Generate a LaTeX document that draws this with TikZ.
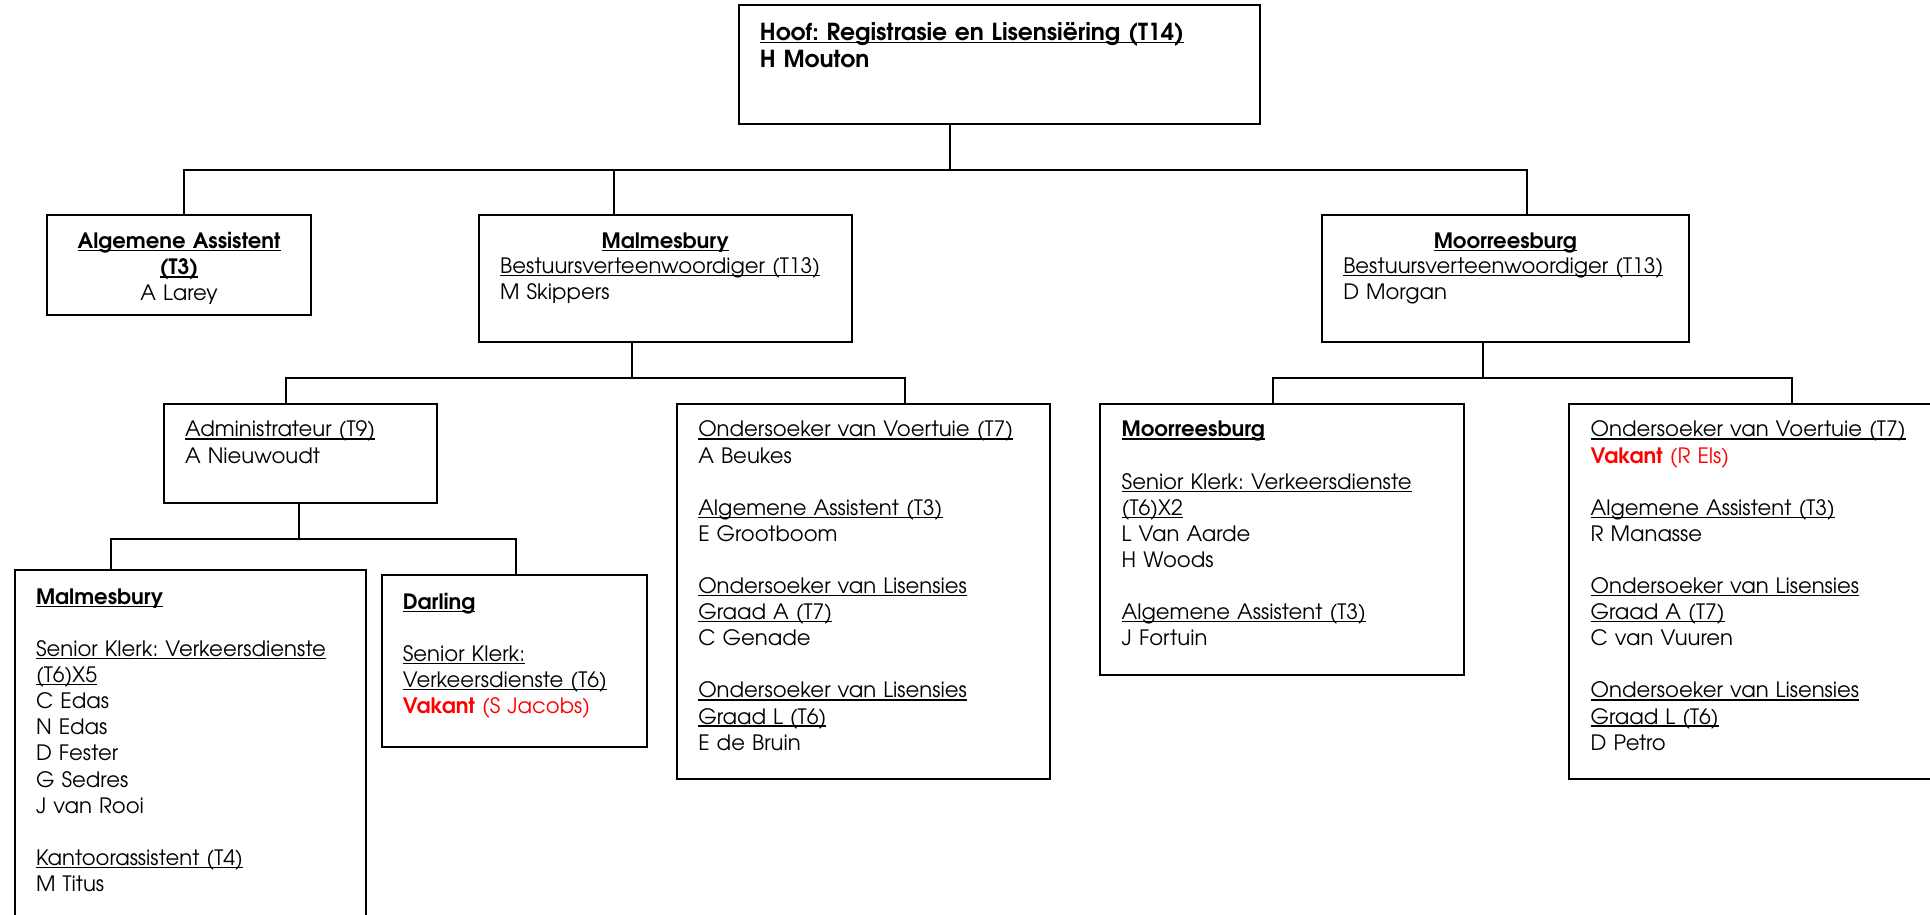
\documentclass[tikz,border=0pt]{standalone}
\usepackage{fontspec}
\setmainfont{texgyreadventor}[Extension=.otf, UprightFont=*-regular, BoldFont=*-bold, ItalicFont=*-italic, BoldItalicFont=*-bolditalic]
\usetikzlibrary{fit,calc}
\definecolor{vred}{RGB}{255,0,0}
\frenchspacing
\newcommand\myul[1]{\leavevmode\setbox0=\hbox{#1}\rlap{\rule[-1.4pt]{\wd0}{0.7pt}}\box0}
\newcommand\fs{\fontsize{10.6}{13.05}\selectfont\frenchspacing}
\newcommand\fst{\fontsize{11.7}{13.6}\selectfont\frenchspacing}
\newcommand\gap{\\[13.05pt]}
\tikzset{
  box/.style={draw, line width=1pt, inner sep=0pt},
  conn/.style={line width=1pt},
  txt/.style={anchor=base west, inner sep=0pt, text width=220pt, align=left, font=\fs},
  ctxt/.style={anchor=base, inner sep=0pt, text width=130pt, align=center, font=\fs}
}
\begin{document}
\begin{tikzpicture}[x=0.61545pt,y=-0.61545pt]
\useasboundingbox (0,0) rectangle (1568,743);
\clip (0,0) rectangle (1568,743);
% boxes
\node[box, fit={(600,4)(1024,101)}] (top) {};
\node[box, fit={(38,175)(253,256)}] (aa) {};
\node[box, fit={(389,175)(692,278)}] (mal) {};
\node[box, fit={(1074,175)(1372,278)}] (moo) {};
\node[box, fit={(133,328)(355,409)}] (adm) {};
\node[box, fit={(550,328)(853,633)}] (ond) {};
\node[box, fit={(12,463)(297,770)}] (msub) {};
\node[box, fit={(310,467)(526,607)}] (dar) {};
\node[box, fit={(894,328)(1189,548)}] (mosub) {};
\node[box, fit={(1275,328)(1610,633)}] (rbox) {};
% connectors
\draw[conn] ($(top.south west)+(173,0)$) -- ++(0,36) coordinate (b1);
\draw[conn] ($(aa.north west)+(112,0)$) |- (b1);
\draw[conn] ($(mal.north west)+(111,0)$) |- (b1);
\draw[conn] ($(moo.north west)+(167,0)$) |- (b1);
\draw[conn] ($(mal.south west)+(125,0)$) -- ++(0,28) coordinate (b2);
\draw[conn] ($(adm.north west)+(100,0)$) |- (b2);
\draw[conn] ($(ond.north west)+(186,0)$) |- (b2);
\draw[conn] ($(adm.south west)+(111,0)$) -- ++(0,28) coordinate (b3);
\draw[conn] ($(msub.north west)+(79,0)$) |- (b3);
\draw[conn] ($(dar.north west)+(110,0)$) |- (b3);
\draw[conn] ($(moo.south west)+(132,0)$) -- ++(0,28) coordinate (b4);
\draw[conn] ($(mosub.north west)+(141,0)$) |- (b4);
\draw[conn] ($(rbox.north west)+(182,0)$) |- (b4);
% texts
\node[txt, font=\fst\bfseries] (t-top) at (617,33) {\myul{Hoof: Registrasie en Lisensiëring (T14)}\\H Mouton};
\node[ctxt] (t-aa) at (145.5,202) {\textbf{\myul{Algemene Assistent}}\\\textbf{\myul{(T3)}}\\A Larey};
\node[ctxt] (t-mal1) at (540.5,202) {\textbf{\myul{Malmesbury}}};
\node[txt] (t-mal2) at (406,222) {\myul{Bestuursverteenwoordiger (T13)}\\M Skippers};
\node[ctxt] (t-moo1) at (1223,202) {\textbf{\myul{Moorreesburg}}};
\node[txt] (t-moo2) at (1091,222) {\myul{Bestuursverteenwoordiger (T13)}\\D Morgan};
\node[txt] (t-adm) at (150,355) {\myul{Administrateur (T9)}\\A Nieuwoudt};
\node[txt] (t-msub) at (29,491) {\textbf{\myul{Malmesbury}}\gap\myul{Senior Klerk: Verkeersdienste}\\\myul{(T6)X5}\\C Edas\\N Edas\\D Fester\\G Sedres\\J van Rooi\gap\myul{Kantoorassistent (T4)}\\M Titus};
\node[txt] (t-dar) at (327,495) {\textbf{\myul{Darling}}\gap\myul{Senior Klerk:}\\\myul{Verkeersdienste (T6)}\\\textcolor{vred}{\textbf{Vakant} (S Jacobs)}};
\node[txt] (t-ond) at (567,355) {\myul{Ondersoeker van Voertuie (T7)}\\A Beukes\gap\myul{Algemene Assistent (T3)}\\E Grootboom\gap\myul{Ondersoeker van Lisensies}\\\myul{Graad A (T7)}\\C Genade\gap\myul{Ondersoeker van Lisensies}\\\myul{Graad L (T6)}\\E de Bruin};
\node[txt] (t-mosub) at (911,355) {\textbf{\myul{Moorreesburg}}\gap\myul{Senior Klerk: Verkeersdienste}\\\myul{(T6)X2}\\L Van Aarde\\H Woods\gap\myul{Algemene Assistent (T3)}\\J Fortuin};
\node[txt] (t-rbox) at (1292,355) {\myul{Ondersoeker van Voertuie (T7)}\\\textcolor{vred}{\textbf{Vakant} (R Els)}\gap\myul{Algemene Assistent (T3)}\\R Manasse\gap\myul{Ondersoeker van Lisensies}\\\myul{Graad A (T7)}\\C van Vuuren\gap\myul{Ondersoeker van Lisensies}\\\myul{Graad L (T6)}\\D Petro};
\end{tikzpicture}
\end{document}
